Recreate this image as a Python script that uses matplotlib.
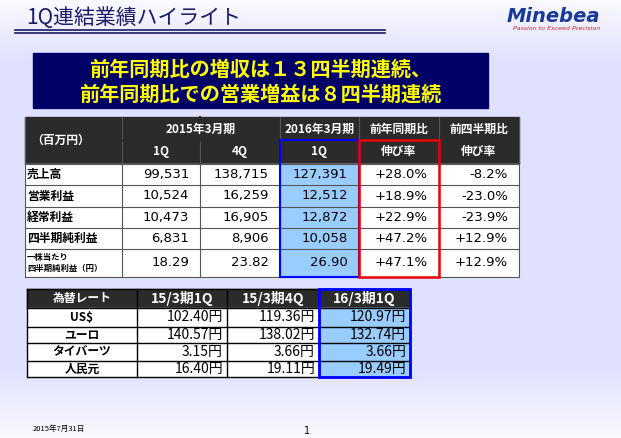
import numpy as np
import matplotlib.pyplot as plt
from matplotlib.patches import Rectangle

plt.rcParams["font.family"] = "Noto Sans CJK JP"

# データ
title = "1Q連結業績ハイライト"
banner = ["前年同期比の増収は１３四半期連続、", "前年同期比での営業増益は８四半期連続"]

row_labels = ["売上高", "営業利益", "経常利益", "四半期純利益", "一株当たり\n四半期純利益（円）"]
q1_2015 = ["99,531", "10,524", "10,473", "6,831", "18.29"]
q4_2015 = ["138,715", "16,259", "16,905", "8,906", "23.82"]
q1_2016 = ["127,391", "12,512", "12,872", "10,058", "26.90"]
yoy = ["+28.0%", "+18.9%", "+22.9%", "+47.2%", "+47.1%"]
qoq = ["-8.2%", "-23.0%", "-23.9%", "+12.9%", "+12.9%"]

fx_header = ["為替レート", "15/3期1Q", "15/3期4Q", "16/3期1Q"]
fx_names = ["US$", "ユーロ", "タイバーツ", "人民元"]
fx_q1_2015 = ["102.40円", "140.57円", "3.15円", "16.40円"]
fx_q4_2015 = ["119.36円", "138.02円", "3.66円", "19.11円"]
fx_q1_2016 = ["120.97円", "132.74円", "3.66円", "19.49円"]

W, H = 621, 438
fig = plt.figure(figsize=(W / 100, H / 100), dpi=100)
ax = fig.add_axes([0, 0, 1, 1])
ax.set_xlim(0, W)
ax.set_ylim(H, 0)
ax.axis("off")

# 背景グラデーション
g = np.ones((H, 1))
for i in range(H):
    if i < 60:
        g[i] = 1 - 0.1 * i / 60
    elif i > 370:
        g[i] = 0.9 + 0.1 * (i - 370) / 68
    else:
        g[i] = 0.9
bg = np.clip(np.dstack([g * 0.98, g * 0.98, np.ones_like(g)]), 0, 1)
ax.imshow(bg, extent=[0, W, H, 0], aspect="auto", zorder=0)

dark = "#2b2b2b"
light_blue = "#99ccff"

# タイトル
ax.text(26, 18, title, fontsize=15, color="#1a1a66", va="center", ha="left")
ax.plot([15, 385], [30, 30], color="#1a1a66", lw=1.2)
ax.plot([15, 385], [32.5, 32.5], color="#1a1a66", lw=1.2)
ax.text(600, 16, "Minebea", fontsize=14, color="#1a3a99", fontweight="bold",
        style="italic", ha="right", va="center", family="DejaVu Sans")
ax.text(600, 29, "Passion to Exceed Precision", fontsize=4.5, color="#cc2222",
        style="italic", ha="right", va="center", family="DejaVu Sans")

# バナー
ax.add_patch(Rectangle((33, 53), 455, 55, color="#000066", zorder=2))
ax.text(260, 69, banner[0], fontsize=14.5, color="#ffff00", fontweight="bold",
        ha="center", va="center", zorder=3)
ax.text(260, 94, banner[1], fontsize=14.5, color="#ffff00", fontweight="bold",
        ha="center", va="center", zorder=3)

# 業績テーブル
cx = [25, 122, 200, 280, 359, 439, 519]
ry = [117, 140, 164, 185, 207, 228, 249, 277]
ax.add_patch(Rectangle((cx[0], ry[0]), cx[-1] - cx[0], ry[2] - ry[0], color=dark, zorder=2))
ax.add_patch(Rectangle((cx[0], ry[2]), cx[-1] - cx[0], ry[-1] - ry[2], color="white", zorder=2))
ax.add_patch(Rectangle((cx[3], ry[2]), cx[4] - cx[3], ry[-1] - ry[2], color=light_blue, zorder=2))
for y in ry[2:]:
    ax.plot([cx[0], cx[-1]], [y, y], color="#555555", lw=0.8, zorder=3)
for x in cx:
    ax.plot([x, x], [ry[0], ry[-1]], color="#555555", lw=0.8, zorder=3)
ax.plot([cx[2], cx[2]], [ry[0], ry[1]], color=dark, lw=1.5, zorder=3)
ax.plot([cx[1], cx[3]], [ry[1], ry[1]], color=dark, lw=1, zorder=3)
ax.add_patch(Rectangle((cx[3], ry[1]), cx[4] - cx[3], ry[-1] - ry[1], fill=False,
                       ec="#0000ff", lw=1.5, zorder=4))
ax.add_patch(Rectangle((cx[4], ry[1]), cx[5] - cx[4], ry[-1] - ry[1], fill=False,
                       ec="#ee0000", lw=1.8, zorder=4))

hk = dict(color="white", fontsize=8.5, fontweight="bold", ha="center", va="center", zorder=5)
ax.text(cx[0] + 6, 140, "（百万円）", ha="left", va="center", color="white",
        fontsize=8.5, fontweight="bold", zorder=5)
ax.text((cx[1] + cx[3]) / 2, 129, "2015年3月期", **hk)
ax.text((cx[3] + cx[4]) / 2, 129, "2016年3月期", **hk)
ax.text((cx[4] + cx[5]) / 2, 129, "前年同期比", **hk)
ax.text((cx[5] + cx[6]) / 2, 129, "前四半期比", **hk)
for i, s in enumerate(["1Q", "4Q", "1Q", "伸び率", "伸び率"]):
    ax.text((cx[i + 1] + cx[i + 2]) / 2, 152, s, **hk)

cols = [q1_2015, q4_2015, q1_2016, yoy, qoq]
for r, lab in enumerate(row_labels):
    yc = (ry[r + 2] + ry[r + 3]) / 2
    fs = 6 if "\n" in lab else 8.5
    ax.text(cx[0] + 2, yc, lab, fontsize=fs, fontweight="bold", ha="left",
            va="center", zorder=5, linespacing=1.3)
    for c, col in enumerate(cols):
        ax.text(cx[c + 2] - 11, yc, col[r], fontsize=9.5, ha="right", va="center",
                zorder=5, family="DejaVu Sans")

# 為替テーブル
fx = [27, 137, 227, 319, 410]
fy = [289, 308, 327, 343, 361, 377]
ax.add_patch(Rectangle((fx[0], fy[0]), fx[-1] - fx[0], fy[1] - fy[0], color=dark, zorder=2))
ax.add_patch(Rectangle((fx[0], fy[1]), fx[-1] - fx[0], fy[-1] - fy[1], color="white", zorder=2))
ax.add_patch(Rectangle((fx[3], fy[1]), fx[4] - fx[3], fy[-1] - fy[1], color=light_blue, zorder=2))
for y in fy:
    ax.plot([fx[0], fx[-1]], [y, y], color="black", lw=1, zorder=3)
for x in fx:
    ax.plot([x, x], [fy[0], fy[-1]], color="black", lw=1, zorder=3)
ax.add_patch(Rectangle((fx[3], fy[0]), fx[4] - fx[3], fy[-1] - fy[0], fill=False,
                       ec="#0000ff", lw=2, zorder=4))
for i, s in enumerate(fx_header):
    ax.text((fx[i] + fx[i + 1]) / 2, (fy[0] + fy[1]) / 2, s, color="white",
            fontsize=8.5 if i == 0 else 10, fontweight="bold", ha="center", va="center", zorder=5)
fcols = [fx_q1_2015, fx_q4_2015, fx_q1_2016]
for r, name in enumerate(fx_names):
    yc = (fy[r + 1] + fy[r + 2]) / 2
    ax.text((fx[0] + fx[1]) / 2, yc, name, fontsize=8.5, fontweight="bold",
            ha="center", va="center", zorder=5)
    for c, col in enumerate(fcols):
        ax.text(fx[c + 2] - 4, yc, col[r], fontsize=10, ha="right", va="center", zorder=5)

# フッター
ax.text(33, 429, "2015年7月31日", fontsize=5.5, style="italic", ha="left", va="center")
ax.text(307, 431, "1", fontsize=7, ha="center", va="center", family="DejaVu Sans")

fig.savefig("out.png", dpi=100)
